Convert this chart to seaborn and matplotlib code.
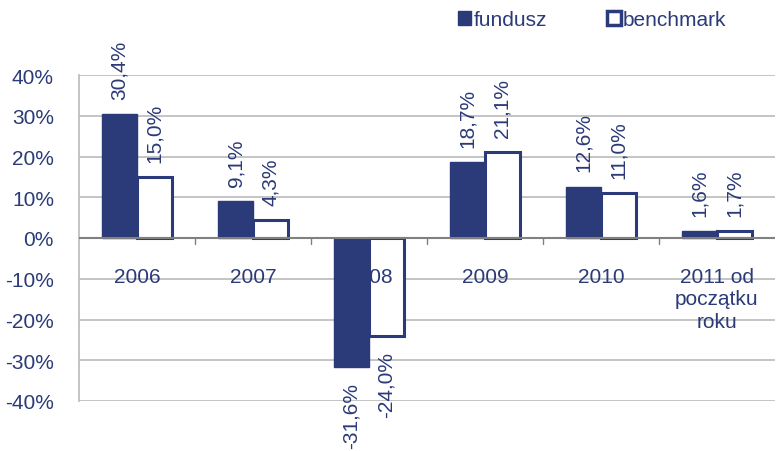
import matplotlib
matplotlib.use("Agg")
import matplotlib.pyplot as plt
import seaborn as sns
import pandas as pd
from matplotlib.patches import Patch
from matplotlib.ticker import FuncFormatter

categories = ["2006", "2007", "2008", "2009", "2010", "2011 od\npoczątku\nroku"]
fundusz = [30.4, 9.1, -31.6, 18.7, 12.6, 1.6]
benchmark = [15.0, 4.3, -24.0, 21.1, 11.0, 1.7]
series = ["fundusz", "benchmark"]
yticks = [-40, -30, -20, -10, 0, 10, 20, 30, 40]

NAVY = "#2B3A78"
GRID = "#BFBFBF"
ZERO = "#808080"
FS = 15

df = pd.DataFrame({
    "cat": categories * 2,
    "series": [series[0]] * len(categories) + [series[1]] * len(categories),
    "value": fundusz + benchmark,
})

sns.set_style("white")
plt.rcParams["font.family"] = ["Liberation Sans", "DejaVu Sans"]

fig = plt.figure(figsize=(7.8, 4.52), dpi=100)
W, H = 780, 452
ax = fig.add_axes([79 / W, (H - 402) / H, (775 - 79) / W, (402 - 76) / H])

sns.barplot(data=df, x="cat", y="value", hue="series", order=categories,
            hue_order=series, width=0.6, ax=ax, legend=False, errorbar=None,
            palette=[NAVY, "white"], saturation=1)

n = len(categories)
for i, p in enumerate(ax.patches[: 2 * n]):
    if i < n:
        p.set_facecolor(NAVY)
        p.set_edgecolor(NAVY)
        p.set_linewidth(1.0)
        p.set_zorder(4)
    else:
        p.set_facecolor("white")
        p.set_edgecolor(NAVY)
        p.set_linewidth(2.2)
        p.set_zorder(2)

ax.set_ylim(-40, 40)
ax.set_xlim(-0.5, n - 0.5)
ax.set_yticks(yticks)
ax.yaxis.set_major_formatter(FuncFormatter(lambda v, _: f"{int(v)}%"))
ax.tick_params(axis="y", labelsize=FS, colors=NAVY, length=6, width=1,
               direction="out", color=GRID, pad=12)
ax.set_xticks([i + 0.5 for i in range(n - 1)])
ax.set_xticklabels([])
ax.tick_params(axis="x", length=0)
ax.set_xlabel("")
ax.set_ylabel("")

for y in yticks:
    if y == 0:
        continue
    ax.axhline(y, color=GRID, lw=1.3, zorder=0)
ax.axhline(0, color=ZERO, lw=1.5, zorder=5)
for i in range(n - 1):
    ax.plot([i + 0.5, i + 0.5], [0, -1.4], color=ZERO, lw=1, zorder=5)

for s in ["top", "right", "bottom"]:
    ax.spines[s].set_visible(False)
ax.spines["left"].set_color(GRID)
ax.spines["left"].set_linewidth(1.3)

# category labels below the zero line
for i, c in enumerate(categories):
    ax.annotate(c, xy=(i, 0), xytext=(0, -21), textcoords="offset points",
                ha="center", va="top", fontsize=FS, color=NAVY, zorder=3,
                linespacing=1.22)

# value labels
bw = 0.3
for i in range(n):
    for j, vals in enumerate([fundusz, benchmark]):
        v = vals[i]
        x = i - bw / 2 + j * bw
        lab = f"{v:.1f}%".replace(".", ",")
        off = 11 if v >= 0 else -11
        ax.annotate(lab, xy=(x, v), xytext=(0, off), textcoords="offset points",
                    ha="center", va="bottom" if v >= 0 else "top", rotation=90,
                    fontsize=FS, color=NAVY, annotation_clip=False, zorder=6)

handles = [Patch(facecolor=NAVY, edgecolor=NAVY, lw=1),
           Patch(facecolor="white", edgecolor=NAVY, lw=2.5)]
leg = fig.legend(handles, series, loc="center", bbox_to_anchor=(592 / W, 1 - 21 / H),
                 ncol=2, frameon=False, fontsize=FS, handlelength=0.65,
                 handleheight=0.65, handletextpad=0.1, columnspacing=2.9,
                 borderpad=0, borderaxespad=0)
for t in leg.get_texts():
    t.set_color(NAVY)

fig.savefig("out.png", dpi=100)
